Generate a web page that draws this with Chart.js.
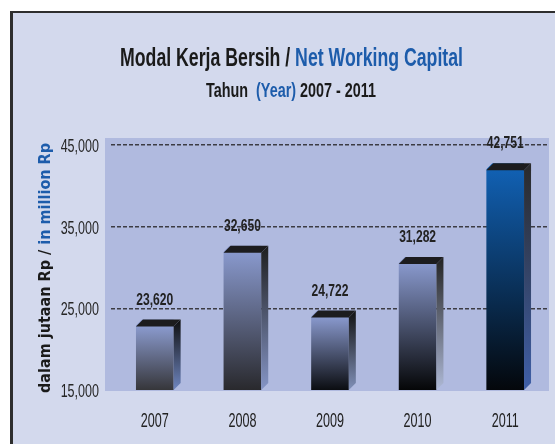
<!DOCTYPE html>
<html>
<head>
<meta charset="utf-8">
<title>Modal Kerja Bersih / Net Working Capital</title>
<script src="https://cdn.jsdelivr.net/npm/chart.js@4.4.1/dist/chart.umd.min.js"></script>
<style>
  html, body { margin: 0; padding: 0; background: #fff; }
  canvas { display: block; }
</style>
</head>
<body>
<canvas id="nwcChart" width="555" height="444"></canvas>
<script>
// data
const years = ['2007', '2008', '2009', '2010', '2011'];
const netWorkingCapital = [23620, 32650, 24722, 31282, 42751];
const yTickValues = [15000, 25000, 35000, 45000];

// colours of each bar (front face top/bottom, side face top/bottom)
const frontTop = ['#8a9acd', '#8898cc', '#8898cc', '#8898cc', '#1160b2'];
const frontBottom = ['#36363a', '#29292d', '#0b0d11', '#050607', '#04070b'];
const sideTop = ['#0e0e0e', '#1e1e1e', '#111111', '#222222', '#2a2a2a'];
const sideBottom = ['#6f86c0', '#8595c6', '#8090b8', '#aeb9d6', '#3f5fa8'];

const BLACK = '#1a1a1a';
const BLUE = '#1d5cab';
const DEPTH = 7;

// draws a line of (multi coloured) text squeezed horizontally
function drawText(ctx, parts, x, y, opt) {
    ctx.save();
    ctx.font = opt.font;
    ctx.textAlign = 'left';
    ctx.textBaseline = 'alphabetic';
    const total = parts.reduce((s, p) => s + ctx.measureText(p[0]).width, 0);
    const sx = opt.width ? opt.width / total : opt.sx;
    let start = x - total * sx / 2;
    if (opt.align === 'right') start = x - total * sx;
    if (opt.align === 'left') start = x;
    ctx.translate(start, y);
    ctx.scale(sx, 1);
    let cx = 0;
    parts.forEach(([t, c]) => {
        ctx.fillStyle = c;
        ctx.fillText(t, cx, 0);
        cx += ctx.measureText(t).width;
    });
    ctx.restore();
}

// frame and plot background
const framePlugin = {
    id: 'frame',
    beforeDraw(chart) {
        const ctx = chart.ctx;
        const a = chart.chartArea;
        ctx.save();
        ctx.fillStyle = '#ffffff';
        ctx.fillRect(0, 0, chart.width, chart.height);
        ctx.fillStyle = '#d3d9ed';
        ctx.fillRect(10, 11, chart.width - 10, chart.height - 11);
        ctx.fillStyle = '#2e2e2e';
        ctx.fillRect(10, 11, chart.width - 10, 2);
        ctx.fillRect(10, 11, 3, chart.height - 11);
        ctx.fillStyle = '#b0badf';
        ctx.fillRect(a.left - 6, a.top, a.right - a.left + 6, a.bottom - a.top + 1);
        ctx.restore();
    }
};

// 3d look: cut the front face corner, then add top and side faces
const bars3dPlugin = {
    id: 'bars3d',
    beforeDatasetsDraw(chart) {
        const ctx = chart.ctx;
        ctx.save();
        ctx.beginPath();
        ctx.rect(0, 0, chart.width, chart.height);
        chart.getDatasetMeta(0).data.forEach(bar => {
            const x0 = bar.x - bar.width / 2;
            ctx.moveTo(x0 - 1, bar.y - 1);
            ctx.lineTo(x0 + DEPTH, bar.y - 1);
            ctx.lineTo(x0 - 1, bar.y + DEPTH);
            ctx.closePath();
        });
        ctx.clip('evenodd');
    },
    afterDatasetsDraw(chart) {
        const ctx = chart.ctx;
        const a = chart.chartArea;
        ctx.restore();
        ctx.save();
        chart.getDatasetMeta(0).data.forEach((bar, i) => {
            const x0 = bar.x - bar.width / 2;
            const x1 = bar.x + bar.width / 2;
            const y = bar.y;
            const base = Math.min(bar.base, a.bottom);
            // side face
            const g = ctx.createLinearGradient(0, y, 0, base);
            g.addColorStop(0, sideTop[i]);
            g.addColorStop(1, sideBottom[i]);
            ctx.fillStyle = g;
            ctx.beginPath();
            ctx.moveTo(x1, y + DEPTH);
            ctx.lineTo(x1 + DEPTH, y);
            ctx.lineTo(x1 + DEPTH, base - DEPTH);
            ctx.lineTo(x1, base);
            ctx.closePath();
            ctx.fill();
            // top face
            ctx.fillStyle = '#1c1c1e';
            ctx.beginPath();
            ctx.moveTo(x0, y + DEPTH);
            ctx.lineTo(x0 + DEPTH, y);
            ctx.lineTo(x1 + DEPTH, y);
            ctx.lineTo(x1, y + DEPTH);
            ctx.closePath();
            ctx.fill();
        });
        ctx.restore();
    }
};

// titles, axis labels and value labels
const textPlugin = {
    id: 'texts',
    afterDraw(chart) {
        const ctx = chart.ctx;
        const xs = chart.scales.x;
        const ys = chart.scales.y;

        drawText(ctx, [['Modal Kerja Bersih / ', BLACK], ['Net Working Capital', BLUE]], 291.5, 66,
            { font: 'bold 26px "Liberation Sans"', width: 343 });
        drawText(ctx, [['Tahun  ', BLACK], ['(Year)', BLUE], [' 2007 - 2011', BLACK]], 291, 97,
            { font: 'bold 20px "Liberation Sans"', width: 170 });

        // rotated y axis title
        ctx.save();
        ctx.translate(50, 268);
        ctx.rotate(-Math.PI / 2);
        drawText(ctx, [['dalam jutaan Rp / ', BLACK], ['in million Rp', BLUE]], 0, 0,
            { font: 'bold 15px "DejaVu Sans"', width: 250 });
        ctx.restore();

        yTickValues.forEach(v => {
            drawText(ctx, [[v.toLocaleString('en-US'), '#262626']], 99, ys.getPixelForValue(v) + 7,
                { font: '19px "Liberation Sans"', sx: 0.66, align: 'right' });
        });

        years.forEach((yr, i) => {
            drawText(ctx, [[yr, '#222222']], xs.getPixelForValue(i), 427,
                { font: '20px "Liberation Sans"', sx: 0.63 });
        });

        chart.getDatasetMeta(0).data.forEach((bar, i) => {
            drawText(ctx, [[netWorkingCapital[i].toLocaleString('en-US'), '#222222']], bar.x, bar.y - 15,
                { font: 'bold 17px "Liberation Sans"', sx: 0.71 });
        });
    }
};

const canvas = document.getElementById('nwcChart');
new Chart(canvas.getContext('2d'), {
    type: 'bar',
    data: {
        labels: years,
        datasets: [{
            data: netWorkingCapital,
            borderWidth: 0,
            barPercentage: 0.43,
            categoryPercentage: 1,
            backgroundColor: function(context) {
                const chart = context.chart;
                const i = context.dataIndex;
                if (!chart.chartArea) return frontTop[i];
                const y = chart.scales.y.getPixelForValue(context.raw);
                const g = chart.ctx.createLinearGradient(0, y + DEPTH, 0, chart.chartArea.bottom);
                g.addColorStop(0, frontTop[i]);
                g.addColorStop(1, frontBottom[i]);
                return g;
            }
        }]
    },
    options: {
        responsive: false,
        animation: false,
        devicePixelRatio: 1,
        layout: { padding: { left: 111, right: 6, top: 138, bottom: 46 } },
        plugins: {
            legend: { display: false },
            tooltip: { enabled: false },
            title: { display: false }
        },
        scales: {
            x: {
                grid: { display: false },
                border: { display: false },
                ticks: { display: false }
            },
            y: {
                min: 15000,
                max: 45850,
                afterBuildTicks: function(scale) {
                    scale.ticks = yTickValues.map(v => ({ value: v }));
                },
                grid: {
                    drawTicks: false,
                    lineWidth: 1.5,
                    color: function(c) {
                        return c.tick && c.tick.value === 15000 ? 'rgba(0,0,0,0)' : '#3c3c44';
                    }
                },
                border: { display: false, dash: [4, 2] },
                ticks: { display: false }
            }
        }
    },
    plugins: [framePlugin, bars3dPlugin, textPlugin]
});
</script>
</body>
</html>
